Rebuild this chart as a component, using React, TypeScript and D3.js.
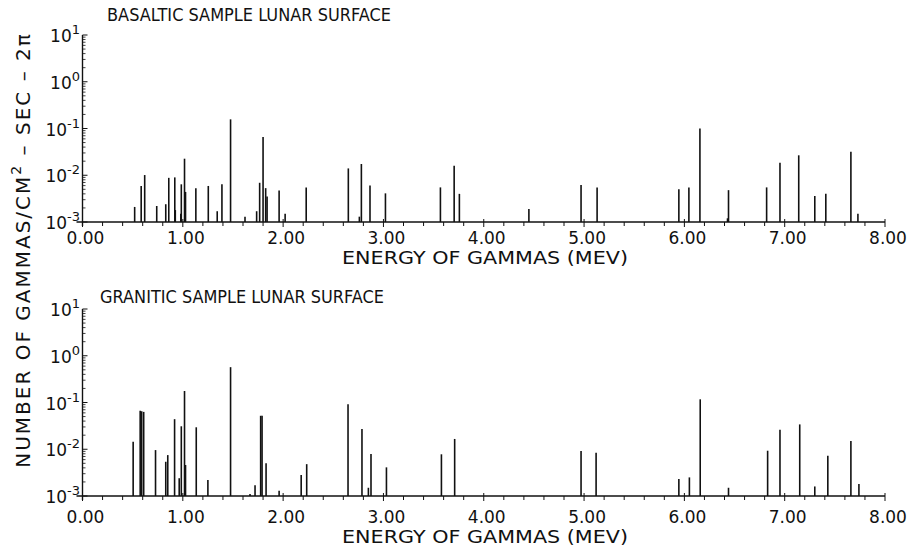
import React from "react";
import * as d3 from "d3";

const basalticEnergy = [0.52, 0.585, 0.62, 0.74, 0.83, 0.86, 0.92, 0.925, 0.98, 0.985, 1.017, 1.027, 1.13, 1.254, 1.343, 1.39, 1.476, 1.62, 1.736, 1.766, 1.8, 1.826, 1.84, 1.96, 2.02, 2.23, 2.65, 2.76, 2.78, 2.866, 3.02, 3.568, 3.705, 3.757, 4.45, 4.97, 5.13, 5.945, 6.045, 6.155, 6.43, 6.44, 6.82, 6.953, 7.14, 7.3, 7.41, 7.66, 7.73];
const basalticFlux = [0.0021, 0.0059, 0.0101, 0.0022, 0.0024, 0.0088, 0.009, 0.0018, 0.0015, 0.0064, 0.0226, 0.0044, 0.0053, 0.0059, 0.0017, 0.0064, 0.157, 0.0013, 0.0017, 0.0069, 0.066, 0.0053, 0.0035, 0.0047, 0.0015, 0.0055, 0.014, 0.0013, 0.0174, 0.006, 0.0041, 0.0055, 0.016, 0.004, 0.0019, 0.0062, 0.0055, 0.005, 0.0055, 0.1, 0.0012, 0.0048, 0.0055, 0.0185, 0.0267, 0.0036, 0.004, 0.032, 0.0015];

const graniticEnergy = [0.505, 0.575, 0.59, 0.61, 0.728, 0.83, 0.85, 0.918, 0.964, 0.985, 1.017, 1.027, 1.134, 1.25, 1.476, 1.67, 1.72, 1.776, 1.79, 1.83, 1.96, 2.18, 2.235, 2.647, 2.786, 2.85, 2.876, 3.03, 3.578, 3.71, 4.97, 5.12, 5.945, 6.05, 6.158, 6.44, 6.83, 6.953, 7.15, 7.3, 7.43, 7.66, 7.74];
const graniticFlux = [0.0145, 0.067, 0.065, 0.063, 0.0096, 0.0054, 0.0075, 0.044, 0.0024, 0.031, 0.176, 0.0046, 0.0295, 0.0022, 0.57, 0.0011, 0.0017, 0.052, 0.052, 0.005, 0.0013, 0.0028, 0.0048, 0.092, 0.027, 0.0015, 0.0079, 0.0041, 0.0078, 0.0166, 0.0092, 0.0084, 0.0023, 0.0025, 0.117, 0.0015, 0.0093, 0.026, 0.034, 0.0016, 0.0073, 0.015, 0.0018];

const xTickLabels = ["0.00", "1.00", "2.00", "3.00", "4.00", "5.00", "6.00", "7.00", "8.00"];
const yExponents = [1, 0, -1, -2, -3];
const panelTitles = ["BASALTIC SAMPLE LUNAR SURFACE", "GRANITIC SAMPLE LUNAR SURFACE"];
const xAxisTitle = "ENERGY OF GAMMAS (MEV)";

const FONT = "'DejaVu Sans', sans-serif";
const INK = "#111";

function Panel({ energies, fluxes, top, bottom, title, titleX, titleY, labelY, axisTitleY }) {
  const x = d3.scaleLinear().domain([0, 8]).range([82.5, 885]);
  const y = d3.scaleLog().domain([1e-3, 10]).range([bottom, top]);
  const minorX = d3.range(0, 41).map((i) => i * 0.2);
  const minorY = [];
  for (let e = -3; e < 1; e++) {
    for (let m = 2; m <= 9; m++) minorY.push(m * Math.pow(10, e));
  }
  return (
    <g>
      <text x={titleX} y={titleY} fontFamily={FONT} fontSize={17} fill={INK} textLength={284} lengthAdjust="spacingAndGlyphs">{title}</text>
      {energies.map((e, i) => (
        <line key={i} x1={x(e)} x2={x(e)} y1={y(1e-3)} y2={y(fluxes[i])} stroke={INK} strokeWidth={1.6} />
      ))}
      <line x1={x(0)} x2={x(0)} y1={y(10)} y2={y(1e-3) + 4} stroke={INK} strokeWidth={1.4} />
      <line x1={x(0) - 6} x2={x(8)} y1={y(1e-3)} y2={y(1e-3)} stroke={INK} strokeWidth={1.4} />
      {minorX.map((v, i) => {
        const major = Math.abs(v - Math.round(v)) < 1e-6;
        return (
          <line key={"xt" + i} x1={x(v)} x2={x(v)} y1={y(1e-3) - (major ? 3 : 0)} y2={y(1e-3) + (major ? 5 : 4)} stroke={INK} strokeWidth={1} />
        );
      })}
      {yExponents.map((ex) => (
        <line key={"ym" + ex} x1={x(0)} x2={x(0) + 5} y1={y(Math.pow(10, ex))} y2={y(Math.pow(10, ex))} stroke={INK} strokeWidth={1} />
      ))}
      {minorY.map((v, i) => (
        <line key={"yt" + i} x1={x(0)} x2={x(0) + 3} y1={y(v)} y2={y(v)} stroke={INK} strokeWidth={0.8} />
      ))}
      {xTickLabels.map((t, i) => (
        <text key={"xl" + i} x={x(i) + 3} y={labelY} textAnchor="middle" fontFamily={FONT} fontSize={17} fill={INK}>{t}</text>
      ))}
      {yExponents.map((ex) => (
        <text key={"yl" + ex} x={80} y={y(Math.pow(10, ex)) + 7} textAnchor="end" fontFamily={FONT} fontSize={17} fill={INK}>
          10<tspan dy={-8} fontSize={13}>{ex}</tspan>
        </text>
      ))}
      <text x={485} y={axisTitleY} textAnchor="middle" fontFamily={FONT} fontSize={17} fill={INK} textLength={286} lengthAdjust="spacingAndGlyphs">{xAxisTitle}</text>
    </g>
  );
}

export default function App() {
  return (
    <svg width={918} height={549} style={{ position: "absolute", left: 0, top: 0, background: "#fff" }}>
      <rect width={918} height={549} fill="#fff" />
      <Panel energies={basalticEnergy} fluxes={basalticFlux} top={35} bottom={222} title={panelTitles[0]} titleX={107} titleY={21} labelY={244} axisTitleY={264} />
      <Panel energies={graniticEnergy} fluxes={graniticFlux} top={309} bottom={496} title={panelTitles[1]} titleX={100} titleY={303} labelY={523} axisTitleY={543} />
      <text transform="translate(30,250) rotate(-90)" textAnchor="middle" fontFamily={FONT} fontSize={20} letterSpacing={2} fill={INK}>
        NUMBER OF GAMMAS/CM<tspan dy={-9} fontSize={14}>2</tspan><tspan dy={9}> – SEC – 2π</tspan>
      </text>
    </svg>
  );
}
